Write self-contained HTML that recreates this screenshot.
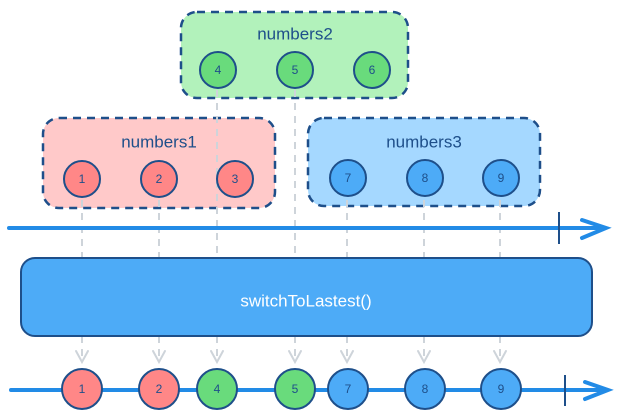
<!DOCTYPE html>
<html><head><meta charset="utf-8"><style>
html,body{margin:0;padding:0;background:#fff;}
svg{display:block;}
text{font-family:"Comic Sans MS","Liberation Sans",sans-serif;fill:#1e4f8a;text-anchor:middle;dominant-baseline:central;}
</style></head><body>
<svg width="618" height="420" viewBox="0 0 618 420" xmlns="http://www.w3.org/2000/svg">
<!-- group boxes -->
<rect x="181" y="12" width="227" height="86" rx="16" fill="#b2f2bb" stroke="#1e4f8a" stroke-width="2.5" stroke-dasharray="8 6"/>
<rect x="43" y="118" width="232" height="90" rx="16" fill="#ffc9c9" stroke="#1e4f8a" stroke-width="2.5" stroke-dasharray="8 6"/>
<rect x="308" y="118" width="232" height="88" rx="16" fill="#a5d8ff" stroke="#1e4f8a" stroke-width="2.5" stroke-dasharray="8 6"/>
<text x="295" y="34" font-size="17">numbers2</text>
<text x="159" y="142" font-size="17">numbers1</text>
<text x="424" y="142" font-size="17">numbers3</text>
<!-- dashed guide lines -->
<g stroke="#ced4da" stroke-width="2" stroke-dasharray="7 6" fill="none">
<line x1="82" y1="200" x2="82" y2="257"/>
<line x1="159" y1="200" x2="159" y2="257"/>
<line x1="217" y1="90" x2="217" y2="257"/>
<line x1="295" y1="90" x2="295" y2="257"/>
<line x1="347" y1="200" x2="347" y2="257"/>
<line x1="424" y1="200" x2="424" y2="257"/>
<line x1="500" y1="200" x2="500" y2="257"/>
<line x1="82" y1="336" x2="82" y2="361"/>
<line x1="159" y1="336" x2="159" y2="361"/>
<line x1="217" y1="336" x2="217" y2="361"/>
<line x1="295" y1="336" x2="295" y2="361"/>
<line x1="347" y1="336" x2="347" y2="361"/>
<line x1="424" y1="336" x2="424" y2="361"/>
<line x1="500" y1="336" x2="500" y2="361"/>
</g>
<g stroke="#ced4da" stroke-width="2" fill="none" stroke-linecap="round">
<path d="M76 351 L82 362 L88 351"/><path d="M153 351 L159 362 L165 351"/><path d="M211 351 L217 362 L223 351"/><path d="M289 351 L295 362 L301 351"/><path d="M341 351 L347 362 L353 351"/><path d="M418 351 L424 362 L430 351"/><path d="M494 351 L500 362 L506 351"/>
</g>
<!-- group circles -->
<g stroke="#1e4f8a" stroke-width="2">
<circle cx="218" cy="70" r="18" fill="#69db7c"/><circle cx="295" cy="70" r="18" fill="#69db7c"/><circle cx="372" cy="70" r="18" fill="#69db7c"/>
<circle cx="82" cy="179" r="18" fill="#ff8787"/><circle cx="159" cy="179" r="18" fill="#ff8787"/><circle cx="235" cy="179" r="18" fill="#ff8787"/>
<circle cx="348" cy="178" r="18" fill="#4dabf7"/><circle cx="425" cy="178" r="18" fill="#4dabf7"/><circle cx="501" cy="178" r="18" fill="#4dabf7"/>
</g>
<g font-size="12">
<text x="218" y="70">4</text><text x="295" y="70">5</text><text x="372" y="70">6</text>
<text x="82" y="179">1</text><text x="159" y="179">2</text><text x="235" y="179">3</text>
<text x="348" y="178">7</text><text x="425" y="178">8</text><text x="501" y="178">9</text>
</g>
<!-- top axis -->
<g stroke="#228be6" stroke-width="4" stroke-linecap="round" fill="none">
<line x1="9" y1="228" x2="605" y2="228"/><path d="M582 220 L606 228 L582 238"/>
</g>
<line x1="559" y1="212" x2="559" y2="244" stroke="#1e4f8a" stroke-width="2"/>
<!-- main box -->
<rect x="21" y="258" width="571" height="78" rx="14" fill="#4dabf7" stroke="#1e4f8a" stroke-width="2"/>
<text x="306" y="301" font-size="17" style="fill:#fff">switchToLastest()</text>
<!-- bottom axis -->
<g stroke="#228be6" stroke-width="4" stroke-linecap="round" fill="none">
<line x1="11" y1="390" x2="607" y2="390"/><path d="M585 382 L608 390 L585 399"/>
</g>
<line x1="565" y1="375" x2="565" y2="406" stroke="#1e4f8a" stroke-width="2"/>
<g stroke="#1e4f8a" stroke-width="2">
<circle cx="82" cy="389" r="20" fill="#ff8787"/><circle cx="159" cy="389" r="20" fill="#ff8787"/><circle cx="217" cy="389" r="20" fill="#69db7c"/>
<circle cx="295" cy="389" r="20" fill="#69db7c"/><circle cx="348" cy="389" r="20" fill="#4dabf7"/><circle cx="425" cy="389" r="20" fill="#4dabf7"/><circle cx="501" cy="389" r="20" fill="#4dabf7"/>
</g>
<g font-size="12">
<text x="82" y="389">1</text><text x="159" y="389">2</text><text x="217" y="389">4</text><text x="295" y="389">5</text><text x="348" y="389">7</text><text x="425" y="389">8</text><text x="501" y="389">9</text>
</g>
</svg>
</body></html>
